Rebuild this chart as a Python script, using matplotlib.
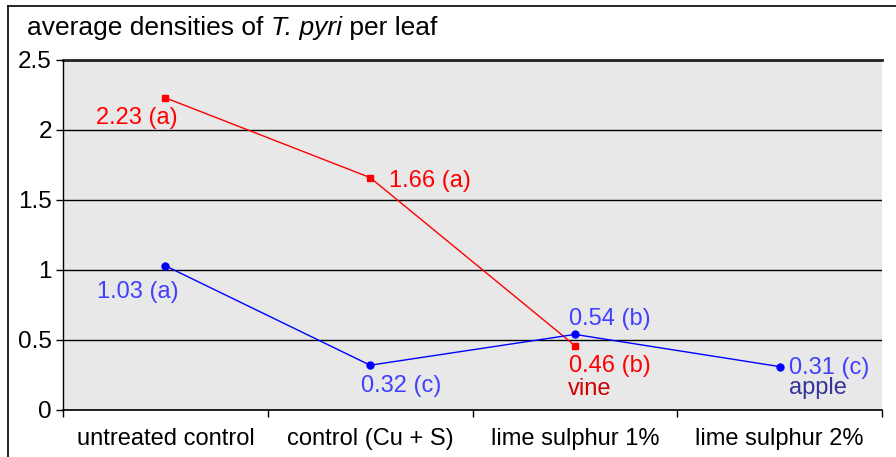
import numpy as np
import matplotlib
matplotlib.use("Agg")
import matplotlib.pyplot as plt
from matplotlib.lines import Line2D

plt.rcParams['font.family'] = ['Liberation Sans', 'DejaVu Sans']

# data
treatments = ['untreated control', 'control (Cu + S)', 'lime sulphur 1%', 'lime sulphur 2%']
vine = [2.23, 1.66, 0.46]
vine_letters = ['a', 'a', 'b']
apple = [1.03, 0.32, 0.54, 0.31]
apple_letters = ['a', 'c', 'b', 'c']

W, H = 896, 457
fig = plt.figure(figsize=(W / 100, H / 100), dpi=100)
ax = fig.add_axes([63 / W, 1 - 410 / H, (882 - 63) / W, (410 - 60) / H])
ax.set_facecolor('#e8e8e8')

x_v = np.arange(len(vine))
x_a = np.arange(len(apple))
ax.plot(x_v, vine, color='#ff0000', lw=1.0, marker='s', ms=5, zorder=3)
ax.plot(x_a, apple, color='#0000ff', lw=1.0, marker='o', ms=5, zorder=3)

ax.set_xlim(-0.5, 3.5)
ax.set_ylim(0, 2.5)
ax.set_yticks([0, 0.5, 1, 1.5, 2, 2.5])
ax.set_yticklabels(['0', '0.5', '1', '1.5', '2', '2.5'], fontsize=17.5)
ax.yaxis.grid(True, color='black', lw=1.0)
ax.set_axisbelow(True)

ax.set_xticks(np.arange(len(treatments)))
ax.set_xticklabels(treatments, fontsize=17)
ax.set_xticks(np.arange(-0.5, 3.6, 1), minor=True)
ax.tick_params(axis='x', which='major', length=0, pad=13)
ax.tick_params(axis='x', which='minor', length=5, width=1)
ax.tick_params(axis='y', length=5, width=1, pad=3)

for s in ['top', 'right']:
    ax.spines[s].set_visible(False)
ax.spines['left'].set_linewidth(1)
ax.spines['bottom'].set_linewidth(1.2)
ax.axhline(2.5, color='#222222', lw=2, clip_on=False)

# labels (offsets in pixels)
vine_off = [(12, -20, 'right'), (19, -3, 'left'), (-6, -20, 'left')]
apple_off = [(13, -26, 'right'), (-9, -21, 'left'), (-6, 15, 'left'), (9, -1, 'left')]
for i, v in enumerate(vine):
    dx, dy, ha = vine_off[i]
    ax.annotate(f'{v:.2f} ({vine_letters[i]})', (x_v[i], v), xytext=(dx, dy),
                textcoords='offset pixels', ha=ha, va='center', color='#ff0000', fontsize=17)
for i, v in enumerate(apple):
    dx, dy, ha = apple_off[i]
    ax.annotate(f'{v:.2f} ({apple_letters[i]})', (x_a[i], v), xytext=(dx, dy),
                textcoords='offset pixels', ha=ha, va='center', color='#4040ff', fontsize=17)

ax.annotate('vine', (x_v[2], vine[2]), xytext=(-7, -43), textcoords='offset pixels',
            ha='left', va='center', color='#cc0000', fontsize=17)
ax.annotate('apple', (x_a[3], apple[3]), xytext=(9, -21), textcoords='offset pixels',
            ha='left', va='center', color='#333399', fontsize=17)

# title with italic species name, built piece by piece
fig.canvas.draw()
renderer = fig.canvas.get_renderer()
x0 = 27
parts = [('average densities of ', 'normal'), ('T. pyri', 'italic'), (' per leaf', 'normal')]
for txt, style in parts:
    t = fig.text(x0 / W, 1 - 28 / H, txt, fontsize=19, style=style, va='center', ha='left')
    bb = t.get_window_extent(renderer)
    x0 += bb.width

# outer frame (only top and left visible)
fig.add_artist(Line2D([8 / W, 1], [1 - 6 / H, 1 - 6 / H], color='black', lw=1.2))
fig.add_artist(Line2D([8 / W, 8 / W], [0, 1 - 6 / H], color='black', lw=1.2))

fig.savefig('out.png', dpi=100)
